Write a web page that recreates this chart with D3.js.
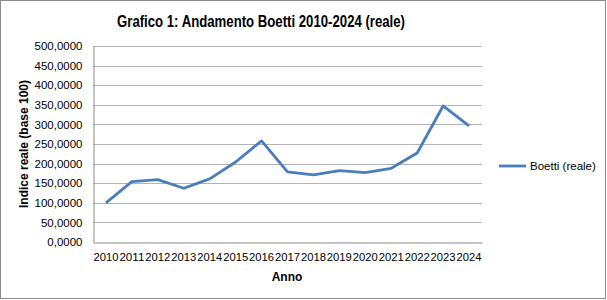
<!DOCTYPE html>
<html>
<head>
<meta charset="utf-8">
<script src="https://cdn.jsdelivr.net/npm/d3@7"></script>
<style>
  body { margin: 0; background: #fff; }
  text { font-family: "Liberation Sans", Arial, sans-serif; fill: #000; }
</style>
</head>
<body>
<div id="chart"></div>
<script>
const years = ["2010", "2011", "2012", "2013", "2014", "2015", "2016", "2017",
    "2018", "2019", "2020", "2021", "2022", "2023", "2024"]
const boetti = [100, 154, 159, 137, 161, 204, 258, 179, 171, 182, 177, 188, 227, 347, 296]
const yTicks = [0, 50, 100, 150, 200, 250, 300, 350, 400, 450, 500]

const W = 607, H = 300
const plot = { left: 93, right: 482, top: 46, bottom: 242 }

const svg = d3.select("#chart").append("svg")
    .attr("width", W)
    .attr("height", H)

svg.append("rect")
    .attr("x", 0.5).attr("y", 0.5)
    .attr("width", W - 2).attr("height", H - 2)
    .attr("fill", "#fff")
    .attr("stroke", "#8c8c8c")

const x = d3.scaleBand().domain(years).range([plot.left, plot.right])
const y = d3.scaleLinear().domain([0, 500]).range([plot.bottom, plot.top])

const fmt = v => d3.format(".4f")(v).replace(".", ",")

// gridlines
svg.append("g")
    .selectAll("line")
    .data(yTicks.filter(d => d > 0))
    .join("line")
    .attr("x1", plot.left).attr("x2", plot.right)
    .attr("y1", d => Math.round(y(d)) + 0.5)
    .attr("y2", d => Math.round(y(d)) + 0.5)
    .attr("stroke", "#b3b3b3")

// y axis
const yAxis = svg.append("g")
    .attr("transform", `translate(${plot.left + 0.5},0)`)
    .call(d3.axisLeft(y).tickValues(yTicks).tickFormat(fmt).tickSize(0).tickPadding(11))
yAxis.select(".domain").attr("stroke", "#8c8c8c")
yAxis.selectAll("text").style("font-size", "11.5px")

// x axis
const xAxis = svg.append("g")
    .attr("transform", `translate(0,${Math.round(plot.bottom) + 0.5})`)
    .call(d3.axisBottom(x).tickSize(0).tickPadding(10))
xAxis.select(".domain").attr("stroke", "#8c8c8c")
xAxis.selectAll("text")
    .style("font-size", "11.5px")
    .attr("textLength", 25)
    .attr("lengthAdjust", "spacingAndGlyphs")

// line
const line = d3.line()
    .x((d, i) => x(years[i]) + x.bandwidth() / 2)
    .y(d => y(d))

svg.append("path")
    .datum(boetti)
    .attr("d", line)
    .attr("fill", "none")
    .attr("stroke", "#4a7ebb")
    .attr("stroke-width", 2.8)
    .attr("stroke-linejoin", "round")

// title and labels
svg.append("text")
    .attr("x", 261).attr("y", 27)
    .attr("text-anchor", "middle")
    .attr("textLength", 288)
    .attr("lengthAdjust", "spacingAndGlyphs")
    .style("font-size", "16px")
    .style("font-weight", "bold")
    .text("Grafico 1: Andamento Boetti 2010-2024 (reale)")

svg.append("text")
    .attr("transform", `translate(28,${(plot.top + plot.bottom) / 2}) rotate(-90)`)
    .attr("text-anchor", "middle")
    .style("font-size", "12px")
    .style("font-weight", "bold")
    .text("Indice reale (base 100)")

svg.append("text")
    .attr("x", 287).attr("y", 281)
    .attr("text-anchor", "middle")
    .style("font-size", "12px")
    .style("font-weight", "bold")
    .text("Anno")

// legend
const legend = svg.append("g").attr("transform", "translate(499,166)")
legend.append("line")
    .attr("x1", 0).attr("x2", 27)
    .attr("stroke", "#4a7ebb")
    .attr("stroke-width", 2.8)
legend.append("text")
    .attr("x", 31).attr("y", 4)
    .style("font-size", "11.5px")
    .text("Boetti (reale)")
</script>
</body>
</html>
